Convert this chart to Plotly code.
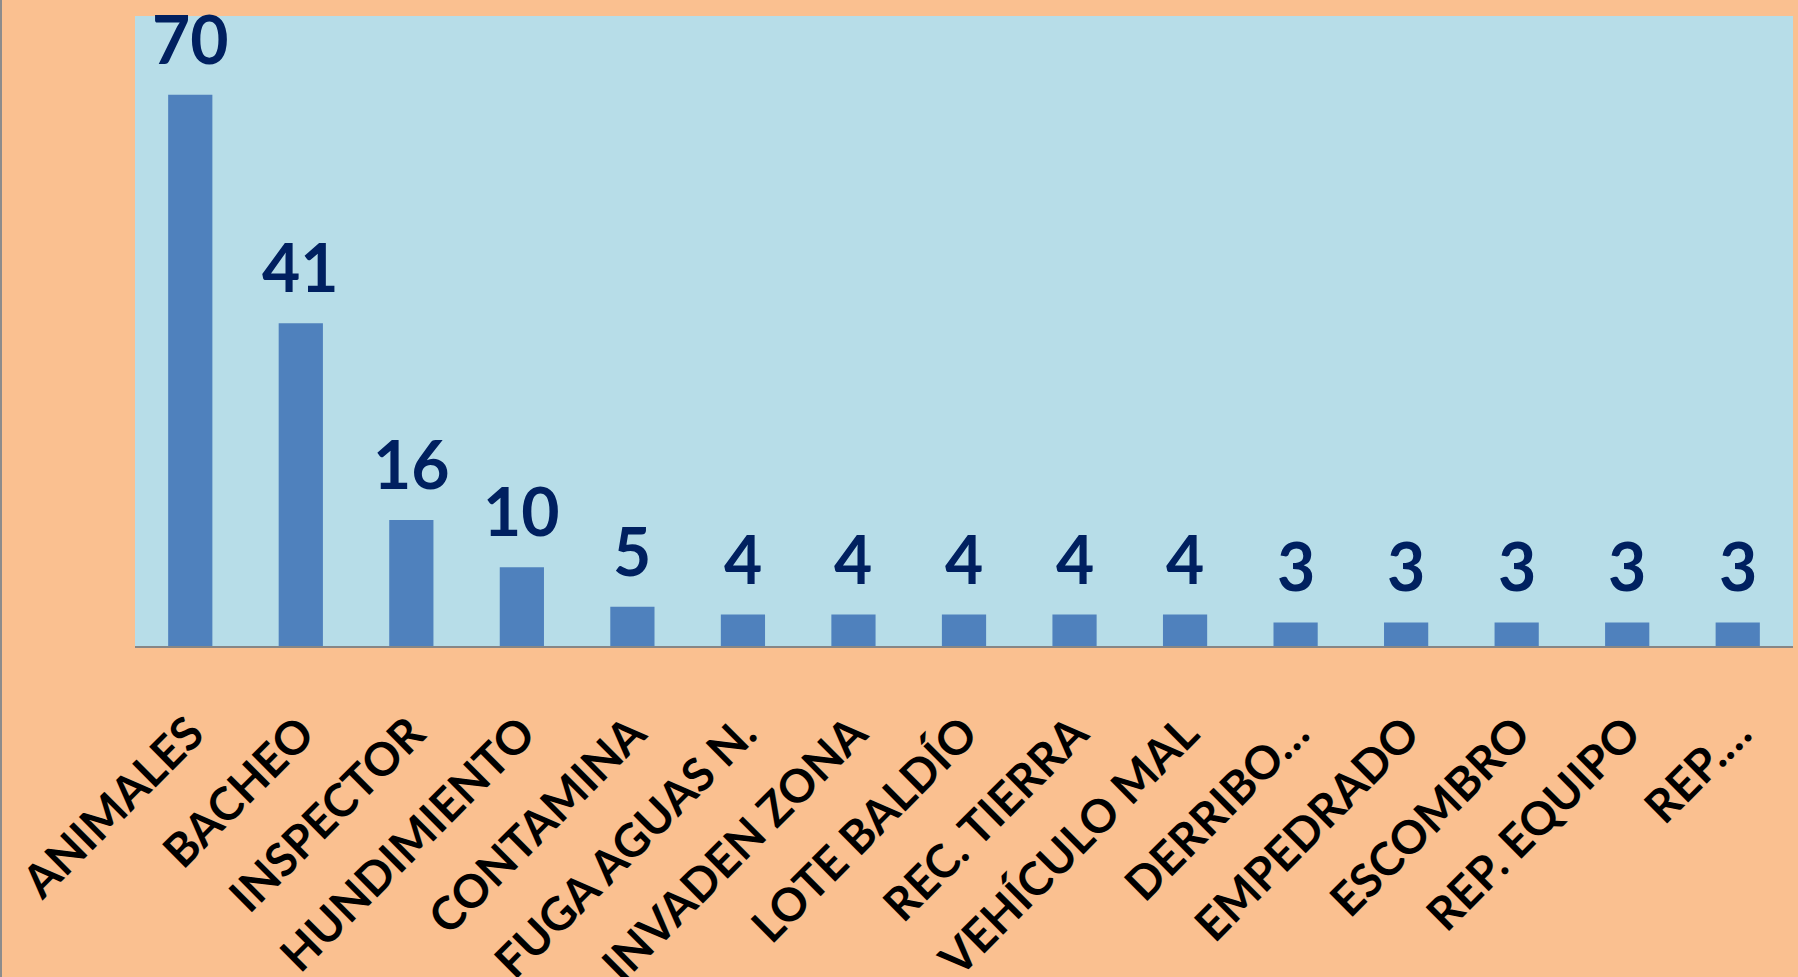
import plotly.graph_objects as go

categories = ["ANIMALES", "BACHEO", "INSPECTOR", "HUNDIMIENTO", "CONTAMINA",
              "FUGA AGUAS N.", "INVADEN ZONA", "LOTE BALDÍO", "REC. TIERRA",
              "VEHÍCULO MAL", "DERRIBO…", "EMPEDRADO", "ESCOMBRO",
              "REP. EQUIPO", "REP.…"]
values = [70, 41, 16, 10, 5, 4, 4, 4, 4, 4, 3, 3, 3, 3, 3]

W, H = 1798, 977
ML, MR, MT, MB = 135, 5, 16, 331
PW, PH = W - ML - MR, H - MT - MB

fig = go.Figure()
fig.add_trace(go.Bar(
    x=categories, y=values,
    marker=dict(color="#4F81BD", line=dict(width=0)),
    hoverinfo="x+y",
))

for c, v in zip(categories, values):
    fig.add_annotation(
        x=c, y=v, text=str(v), showarrow=False,
        yanchor="bottom", yshift=15,
        font=dict(family="Lato", size=66, color="#002060", weight="bold"),
    )

fig.add_shape(type="line", xref="paper", yref="paper",
              x0=-(ML - 1) / PW, x1=-(ML - 1) / PW,
              y0=-MB / PH, y1=1 + MT / PH,
              line=dict(color="#8C8C8C", width=2))

fig.update_layout(
    width=W, height=H,
    margin=dict(l=ML, r=MR, t=MT, b=MB, autoexpand=False),
    paper_bgcolor="#FAC090",
    plot_bgcolor="#B7DDE8",
    bargap=0.6,
    showlegend=False,
    font=dict(family="Lato"),
)
fig.update_xaxes(
    tickangle=-45,
    tickfont=dict(family="Lato", size=46, color="#000000", weight="bold"),
    showline=True, linecolor="#868686", linewidth=2,
    ticks="", showgrid=False, automargin=False,
    ticklabelstandoff=40,
)
fig.update_yaxes(
    range=[0, 80], visible=False, showgrid=False, zeroline=False,
)

fig.write_html(
    "out.html",
    config={"displayModeBar": False},
    post_script="document.body.style.margin='0';document.body.style.overflow='hidden';",
)
